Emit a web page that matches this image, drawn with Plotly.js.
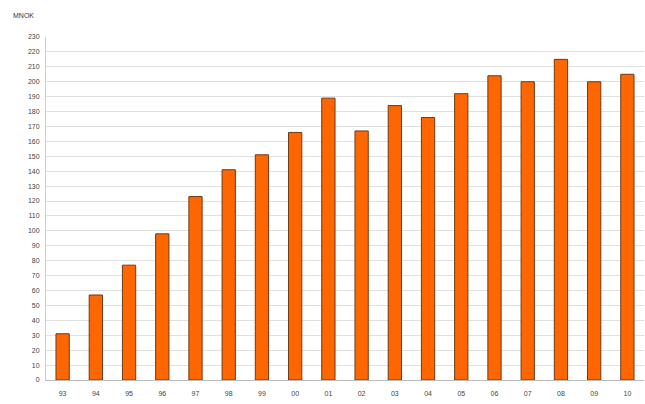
<!DOCTYPE html>
<html>
<head>
<meta charset="utf-8">
<script src="https://cdn.plot.ly/plotly-3.0.1.min.js"></script>
<style>html,body{margin:0;padding:0;background:#fff}#chart{width:645px;height:404px}</style>
</head>
<body>
<div id="chart"></div>
<script>
const years = ["93","94","95","96","97","98","99","00","01","02","03","04","05","06","07","08","09","10"];
const values = [31, 57, 77, 98, 123, 141, 151, 166, 189, 167, 184, 176, 192, 204, 200, 215, 200, 205];
const yTicks = [0,10,20,30,40,50,60,70,80,90,100,110,120,130,140,150,160,170,180,190,200,210,220,230];

const trace = {
  type: "bar",
  x: years,
  y: values,
  marker: { color: "#ff6600", line: { color: "#6b3a1a", width: 1 } },
  hoverinfo: "x+y"
};

const layout = {
  width: 645,
  height: 404,
  margin: { l: 46, r: 1, t: 37, b: 24 },
  paper_bgcolor: "#ffffff",
  plot_bgcolor: "#ffffff",
  bargap: 0.6,
  showlegend: false,
  font: { family: "Liberation Sans, Arial, sans-serif", size: 7, color: "#444" },
  xaxis: {
    type: "category",
    tickfont: { size: 7, color: "#444" },
    showgrid: false,
    showline: true,
    linecolor: "#bbbbbb",
    linewidth: 1,
    ticks: "",
    ticklabelstandoff: 7,
    fixedrange: true
  },
  yaxis: {
    range: [0, 230],
    tickvals: yTicks,
    ticktext: yTicks.map(String),
    tickfont: { size: 7, color: "#444" },
    showgrid: true,
    gridcolor: "#e0e0e0",
    gridwidth: 1,
    zeroline: false,
    showline: true,
    linecolor: "#cccccc",
    linewidth: 1,
    ticks: "",
    ticklabelstandoff: 4,
    fixedrange: true
  },
  annotations: [{
    text: "MNOK",
    xref: "paper", yref: "paper",
    x: -0.058, y: 1.064,
    xanchor: "left", yanchor: "middle",
    showarrow: false,
    font: { size: 7, color: "#333" }
  }]
};

Plotly.newPlot("chart", [trace], layout, { displayModeBar: false, staticPlot: true });
</script>
</body>
</html>
